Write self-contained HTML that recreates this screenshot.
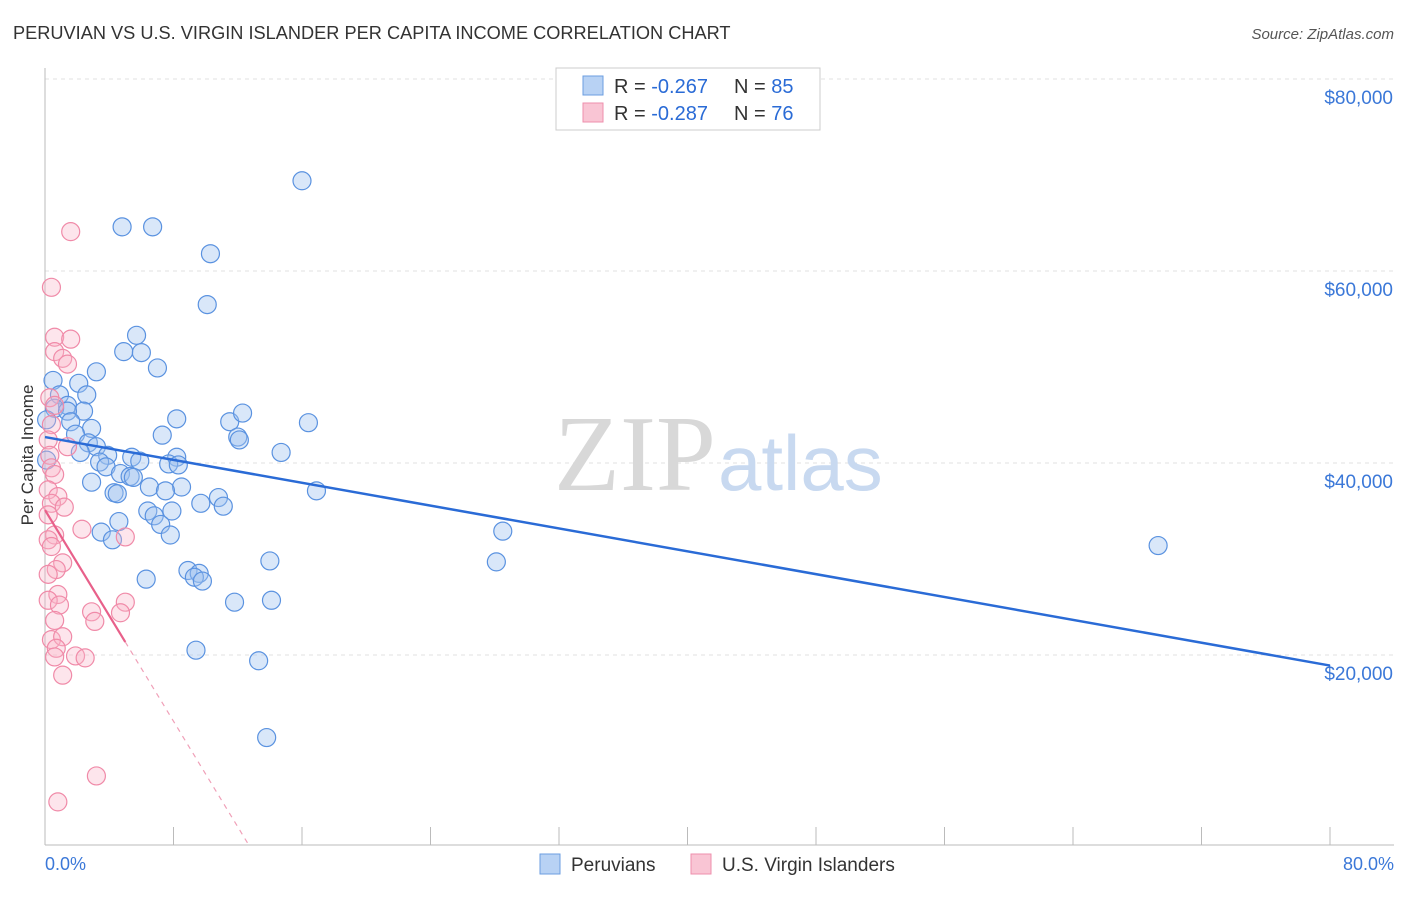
<!DOCTYPE html>
<html><head><meta charset="utf-8"><style>
body{margin:0;background:#fff;font-family:"Liberation Sans",sans-serif}
</style></head><body>
<svg width="1406" height="892" xmlns="http://www.w3.org/2000/svg">
<text x="13" y="39" font-size="18.2" fill="#333">PERUVIAN VS U.S. VIRGIN ISLANDER PER CAPITA INCOME CORRELATION CHART</text>
<text x="1394" y="39" font-size="15" fill="#555" font-style="italic" text-anchor="end">Source: ZipAtlas.com</text>
<g id="grid"></g>
<text x="716" y="490" font-size="108" fill="#d8d8d8" text-anchor="end" font-family="Liberation Serif">ZIP</text>
<text x="718" y="490" font-size="78" fill="#c8d9f0">atlas</text>
<g id="marks"></g>
<text x="33" y="455" font-size="17" fill="#333" text-anchor="middle" transform="rotate(-90 33 455)">Per Capita Income</text>
<text x="45" y="870" font-size="18" fill="#3b78d8">0.0%</text>
<text x="1394" y="870" font-size="18" fill="#3b78d8" text-anchor="end">80.0%</text>
<g>
<rect x="556" y="68" width="264" height="62" fill="#fff" stroke="#ccc"/>
<rect x="583" y="76" width="20" height="19" fill="#b8d2f4" stroke="#6b9ee0"/>
<rect x="583" y="103" width="20" height="19" fill="#f9c5d4" stroke="#ee8fac"/>
<text x="614" y="93" font-size="20" fill="#333">R = <tspan fill="#2a6bd6">-0.267</tspan><tspan x="734">N = </tspan><tspan fill="#2a6bd6">85</tspan></text>
<text x="614" y="120" font-size="20" fill="#333">R = <tspan fill="#2a6bd6">-0.287</tspan><tspan x="734">N = </tspan><tspan fill="#2a6bd6">76</tspan></text>
</g>
<g>
<rect x="540" y="854" width="20" height="20" fill="#b8d2f4" stroke="#6b9ee0"/>
<text x="571" y="871" font-size="19" fill="#333">Peruvians</text>
<rect x="691" y="854" width="20" height="20" fill="#f9c5d4" stroke="#ee8fac"/>
<text x="722" y="871" font-size="19" fill="#333">U.S. Virgin Islanders</text>
</g>
</svg>
<script>
const yTicks=[20000,40000,60000,80000];
const yTickLabels=["$20,000","$40,000","$60,000","$80,000"];
const xTicks=[0,8,16,24,32,40,48,56,64,72,80];
const blueX=[16.0,4.8,6.7,10.3,10.1,5.7,4.9,6.0,7.0,3.2,2.1,0.5,2.6,0.9,1.4,0.6,2.4,1.4,1.6,8.2,11.5,12.3,16.4,2.9,1.9,7.3,12.0,12.1,2.7,3.2,2.2,14.7,3.9,5.4,8.2,3.4,5.9,7.7,8.3,3.8,4.7,5.3,5.5,2.9,6.5,8.5,7.5,16.9,4.3,4.5,9.7,10.8,11.1,6.4,7.9,6.8,7.2,4.6,28.5,3.5,7.8,4.2,69.3,14.0,28.1,8.9,9.6,6.3,9.3,9.8,14.1,11.8,9.4,13.3,13.8,0.1,0.1];
const blueY=[69.4,64.6,64.6,61.8,56.5,53.3,51.6,51.5,49.9,49.5,48.3,48.6,47.1,47.1,46.0,45.7,45.4,45.4,44.3,44.6,44.3,45.2,44.2,43.6,43.0,42.9,42.7,42.4,42.1,41.7,41.1,41.1,40.8,40.6,40.6,40.1,40.2,39.9,39.8,39.6,38.9,38.6,38.5,38.0,37.5,37.5,37.1,37.1,36.9,36.8,35.8,36.4,35.5,35.0,35.0,34.5,33.6,33.9,32.9,32.8,32.5,32.0,31.4,29.8,29.7,28.8,28.5,27.9,28.1,27.7,25.7,25.5,20.5,19.4,11.4,44.5,40.3];
const pinkX=[1.6,0.4,0.6,1.6,0.6,1.1,1.4,0.3,0.6,0.4,0.2,0.3,0.4,0.6,0.2,0.8,0.4,1.2,0.2,2.3,0.6,0.2,0.4,5.0,1.1,0.7,0.2,0.8,0.2,0.9,5.0,2.9,4.7,3.1,0.6,0.4,1.1,0.7,1.9,2.5,0.6,1.1,3.2,0.8,1.4];
const pinkY=[64.1,58.3,53.1,52.9,51.6,50.9,50.3,46.8,46.0,44.0,42.4,40.8,39.5,38.8,37.2,36.5,35.8,35.4,34.6,33.1,32.5,32.0,31.3,32.3,29.6,28.9,28.4,26.3,25.7,25.2,25.5,24.5,24.4,23.5,23.6,21.6,21.9,20.7,19.9,19.7,19.8,17.9,7.4,4.7,41.7];
const blueTrend=[42.7,-0.2975];
const pinkTrend=[35.1,-2.75];
const NS="http://www.w3.org/2000/svg";
const X=v=>45+v/80*1285;
const Y=v=>847-v/20000*192;
const Yk=v=>Y(v*1000);
const grid=document.getElementById('grid'),marks=document.getElementById('marks');
function mk(tag,attrs,parent){const e=document.createElementNS(NS,tag);for(const k in attrs)e.setAttribute(k,attrs[k]);parent.appendChild(e);return e;}
yTicks.forEach((t,i)=>{
 const l=mk('line',{x1:45,x2:1394,y1:Y(t),y2:Y(t),stroke:'#e2e2e2','stroke-dasharray':'4,4'},grid);
 
 
 const tx=mk('text',{x:1393,y:Y(t)+25,'font-size':19,fill:'#3b78d8','text-anchor':'end'},grid);
 tx.textContent=yTickLabels[i];
 
 
});
const ax=mk('line',{x1:45,x2:1394,y1:845,y2:845,stroke:'#bbb'},grid);


const ay=mk('line',{x1:45,x2:45,y1:68,y2:845,stroke:'#bbb'},grid);


xTicks.forEach(t=>{
 const l=mk('line',{x1:X(t),x2:X(t),y1:827,y2:845,stroke:'#bbb'},grid);
 
 
});
blueX.forEach((x,i)=>{
 const c=mk('circle',{cx:X(x),cy:Yk(blueY[i]),r:9,fill:'rgba(160,196,240,0.4)',stroke:'#5a92e0','stroke-width':1.2},marks);
 
 
});
pinkX.forEach((x,i)=>{
 const c=mk('circle',{cx:X(x),cy:Yk(pinkY[i]),r:9,fill:'rgba(248,180,200,0.35)',stroke:'#f08aa8','stroke-width':1.2},marks);
 
 
});
const bl=mk('line',{x1:X(0),y1:Yk(blueTrend[0]),x2:X(80),y2:Yk(blueTrend[0]+blueTrend[1]*80),stroke:'#2a6bd6','stroke-width':2.5},marks);


const pl=mk('line',{x1:X(0),y1:Yk(pinkTrend[0]),x2:X(5),y2:Yk(pinkTrend[0]+pinkTrend[1]*5),stroke:'#e8608a','stroke-width':2.2},marks);


const xEnd=-pinkTrend[0]/pinkTrend[1];
const pd=mk('line',{x1:X(5),y1:Yk(pinkTrend[0]+pinkTrend[1]*5),x2:X(xEnd),y2:Yk(0),stroke:'#f0a0b8','stroke-width':1.2,'stroke-dasharray':'5,5'},marks);


</script>
</body></html>
